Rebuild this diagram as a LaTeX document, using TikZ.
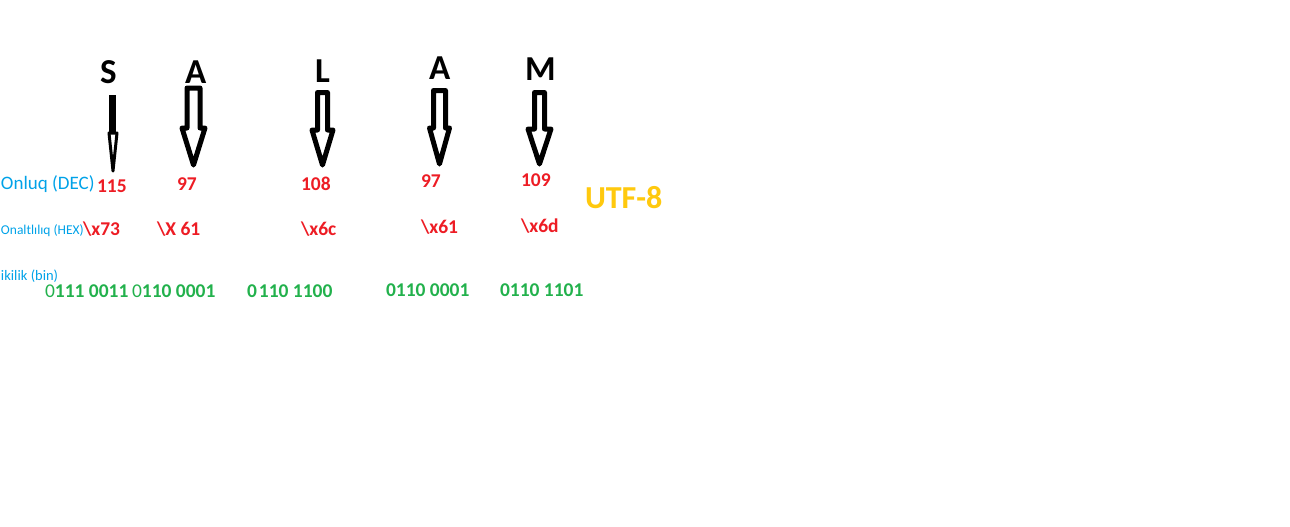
\documentclass[tikz,border=0pt]{standalone}
\usepackage{fontspec}
\setmainfont{Carlito}
\usepackage{xcolor}
\usepackage{tikz}
\usetikzlibrary{calc}
\definecolor{paintred}{HTML}{ED1C24}
\definecolor{paintgreen}{HTML}{22B14C}
\definecolor{paintgold}{HTML}{FFC90E}
\definecolor{paintblue}{HTML}{00A2E8}

\begin{document}
\begin{tikzpicture}[x=1pt, y=-1pt]
      \tikzstyle{txt} = [anchor=base west, inner sep=0pt, outer sep=0pt]
      \tikzstyle{letter} = [txt, font=\fontsize{35}{35}\selectfont\bfseries]
      \tikzstyle{code} = [txt, text=paintred, font=\fontsize{19.5}{20}\selectfont\bfseries]
      \tikzstyle{bin} = [txt, text=paintgreen, font=\fontsize{19.5}{20}\selectfont\bfseries]
      \tikzstyle{caption} = [txt, text=paintblue]
      \tikzstyle{barrow} = [line width=5pt, line join=round]

      \useasboundingbox (0,0) rectangle (1290,527);

      \node[letter] (S) at (100,83) {S};
      \node[letter] (A) at (185,83) {A};
      \node[letter] (L) at (315,82) {L};
      \node[letter] (A2) at (429,80) {A};
      \node[letter] (M) at (525,81) {M};

      \node[caption, font=\fontsize{19}{19}\selectfont] (dec) at (1,189) {Onluq (DEC)};
      \node[caption, font=\fontsize{13.5}{14}\selectfont] (hex) at (1,234) {Onaltlılıq (HEX)};
      \node[caption, font=\fontsize{14.5}{15}\selectfont] (bin) at (1,280) {ikilik (bin)};

      \node[code] (dS) at (97,192) {115};
      \node[code] (dA) at (177,190) {97};
      \node[code] (dL) at (301,190) {108};
      \node[code] (dA2) at (421,187) {97};
      \node[code] (dM) at (521,186) {109};

      \node[code] (hS) at (83,235) {\textbackslash x73};
      \node[code] (hA) at (157,235) {\textbackslash X 61};
      \node[code] (hL) at (301,235) {\textbackslash x6c};
      \node[code] (hA2) at (421,233) {\textbackslash x61};
      \node[code] (hM) at (521,232) {\textbackslash x6d};

      \node[bin] (bS) at (45,297) {{\mdseries 0}111 0011};
      \node[bin] (bA) at (132,297) {{\mdseries 0}110 0001};
      \node[bin] (bL) at (247,297) {0\kern2pt110 1100};
      \node[bin] (bA2) at (386,296) {0110 0001};
      \node[bin] (bM) at (500,296) {0110 1101};

      \node[txt, text=paintgold, font=\fontsize{32}{32}\selectfont\bfseries] (utf) at (585,208) {UTF-8};

      \coordinate (S0) at (112.5,95);
      \coordinate (S1) at (112.5,133);
      \coordinate (S2) at (113,171);
      \coordinate (A0) at (193.5,88);
      \coordinate (A1) at (193.5,165);
      \coordinate (L0) at (322.5,92.5);
      \coordinate (L1) at (322.5,165);
      \coordinate (A20) at (439.5,90.5);
      \coordinate (A21) at (439.5,164);
      \coordinate (M0) at (539.5,92.5);
      \coordinate (M1) at (539.5,164);

      \draw[line width=7.5pt] (S0) -- (S1);
      \draw[line width=3pt, line join=round] ($(S2)+(-4,-38)$) -- ($(S2)+(4,-38)$) -- (S2) -- cycle;
      \draw[barrow] ($(A0)+(-6.5,0)$) -- ($(A0)+(6.5,0)$) -- ($(A1)+(6.5,-37)$) -- ($(A1)+(11.5,-37)$) -- (A1) -- ($(A1)+(-11.5,-37)$) -- ($(A1)+(-6.5,-37)$) -- cycle;
      \draw[barrow] ($(L0)+(-5,0)$) -- ($(L0)+(5,0)$) -- ($(L1)+(5,-35)$) -- ($(L1)+(10.5,-35)$) -- (L1) -- ($(L1)+(-10.5,-35)$) -- ($(L1)+(-5,-35)$) -- cycle;
      \draw[barrow] ($(A20)+(-6,0)$) -- ($(A20)+(6,0)$) -- ($(A21)+(6,-36)$) -- ($(A21)+(10,-36)$) -- (A21) -- ($(A21)+(-10,-36)$) -- ($(A21)+(-6,-36)$) -- cycle;
      \draw[barrow] ($(M0)+(-5,0)$) -- ($(M0)+(5,0)$) -- ($(M1)+(5,-35)$) -- ($(M1)+(11.5,-35)$) -- (M1) -- ($(M1)+(-11.5,-35)$) -- ($(M1)+(-5,-35)$) -- cycle;
    \end{tikzpicture}
\end{document}
